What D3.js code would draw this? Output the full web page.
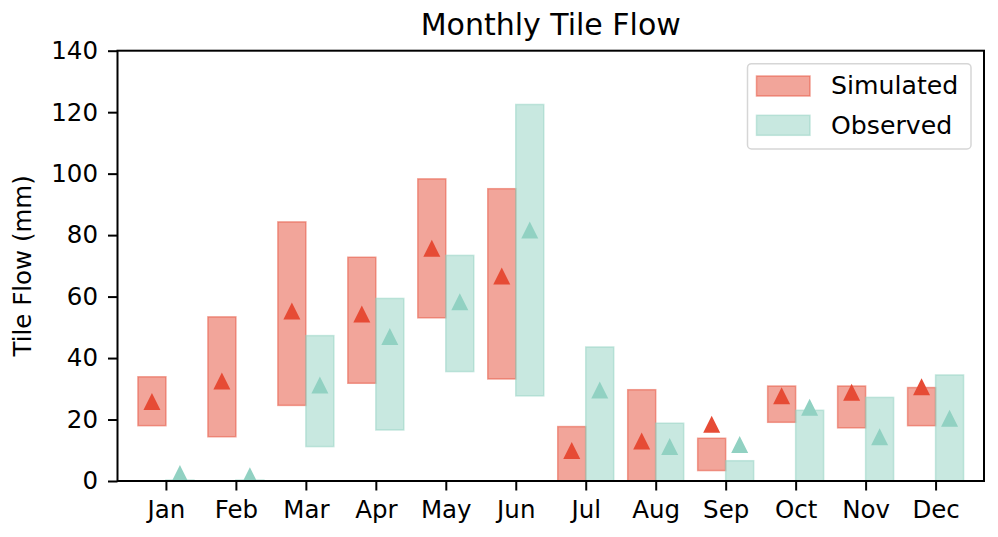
<!DOCTYPE html>
<html><head><meta charset="utf-8">
<script src="https://cdn.jsdelivr.net/npm/d3@7"></script>
<style>html,body{margin:0;padding:0;background:#fff;}svg{display:block;}</style>
</head><body>
<script>
const months = ["Jan","Feb","Mar","Apr","May","Jun","Jul","Aug","Sep","Oct","Nov","Dec"];
const simMin = [18.0,14.4,24.6,31.8,53.1,33.2,0,0,3.4,19.1,17.3,18.0];
const simMax = [33.9,53.4,84.3,72.8,98.3,95.1,17.7,29.7,13.9,30.9,30.9,30.4];
const simMean = [25.9,32.5,55.3,54.3,75.7,66.7,9.9,13.0,18.5,27.7,28.9,30.7];
const obsMin = [0,0,11.2,16.6,35.6,27.7,0,0,0,0,0,0];
const obsMax = [0.3,0.3,47.3,59.4,73.4,122.5,43.6,18.8,6.6,23.0,27.2,34.5];
const obsMean = [2.4,1.7,31.2,47.0,58.3,81.7,29.6,11.2,11.9,24.0,14.4,20.4];
const yTicks = [0,20,40,60,80,100,120,140];
const seriesNames = ["Simulated","Observed"];
const simColor = "#E64B35", obsColor = "#91D1C2";

const W = 998, H = 537;
const L = 117.5, R = 984, T = 50.7, B = 481;
const svg = d3.select("body").append("svg").attr("width", W).attr("height", H)
  .style("font-family", "'DejaVu Sans', sans-serif");

const x = d3.scalePoint().domain(months).range([L, R]).padding(0.692);
const step = x.step();
const bw = 0.4 * step, off = 0.2 * step;
const y = d3.scaleLinear().domain([0, 140]).range([B, T]);

svg.append("defs").append("clipPath").attr("id","clip")
  .append("rect").attr("x", L).attr("y", T).attr("width", R - L).attr("height", B - T);
const g = svg.append("g").attr("clip-path","url(#clip)");

function bars(minA, maxA, color, dir) {
  g.selectAll(null).data(months).enter().append("rect")
    .attr("x", (d) => x(d) + dir * off - bw / 2)
    .attr("width", bw)
    .attr("y", (d, i) => y(maxA[i]))
    .attr("height", (d, i) => y(minA[i]) - y(maxA[i]))
    .attr("fill", color).attr("fill-opacity", 0.5)
    .attr("stroke", color).attr("stroke-opacity", 0.5).attr("stroke-width", 1.5);
}
bars(simMin, simMax, simColor, -1);
bars(obsMin, obsMax, obsColor, 1);

function triangles(vals, color, dir) {
  const s = 8.5;
  g.selectAll(null).data(months).enter().append("path")
    .attr("d", `M0,${-s}L${s},${s}L${-s},${s}Z`)
    .attr("transform", (d, i) => `translate(${x(d) + dir * off},${y(vals[i])})`)
    .attr("fill", color);
}
triangles(simMean, simColor, -1);
triangles(obsMean, obsColor, 1);

// axes
const yAxis = svg.append("g").attr("transform", `translate(${L},0)`)
  .call(d3.axisLeft(y).tickValues(yTicks).tickSize(9.5).tickPadding(10));
const xAxis = svg.append("g").attr("transform", `translate(0,${B})`)
  .call(d3.axisBottom(x).tickSize(9.5).tickPadding(10.5));
[yAxis, xAxis].forEach(a => {
  a.select(".domain").remove();
  a.selectAll(".tick line").attr("stroke", "#000").attr("stroke-width", 2);
  a.selectAll(".tick text").attr("fill", "#000").style("font-size", "24.5px")
    .style("font-family", "'DejaVu Sans', sans-serif");
});
svg.append("rect").attr("x", L).attr("y", T).attr("width", R - L).attr("height", B - T)
  .attr("fill", "none").attr("stroke", "#000").attr("stroke-width", 2);

svg.append("text").attr("x", (L + R) / 2).attr("y", 35).attr("text-anchor", "middle")
  .style("font-size", "30px").text("Monthly Tile Flow");
svg.append("text").attr("transform", `translate(31,${(T + B) / 2}) rotate(-90)`)
  .attr("text-anchor", "middle").style("font-size", "24.5px").text("Tile Flow (mm)");

// legend
const lg = svg.append("g");
lg.append("rect").attr("x", 747.5).attr("y", 63.7).attr("width", 223.5).attr("height", 85.3)
  .attr("rx", 4).attr("fill", "#fff").attr("fill-opacity", 0.8)
  .attr("stroke", "#d6d6d6").attr("stroke-width", 1.5);
const lcolors = [simColor, obsColor];
seriesNames.forEach((n, i) => {
  const yy = 76 + i * 39.3;
  lg.append("rect").attr("x", 756.5).attr("y", yy).attr("width", 53.5).attr("height", 20)
    .attr("fill", lcolors[i]).attr("fill-opacity", 0.5)
    .attr("stroke", lcolors[i]).attr("stroke-opacity", 0.5).attr("stroke-width", 1.5);
  lg.append("text").attr("x", 831).attr("y", yy + 18.3).style("font-size", "25.2px").text(n);
});
</script>
</body></html>
